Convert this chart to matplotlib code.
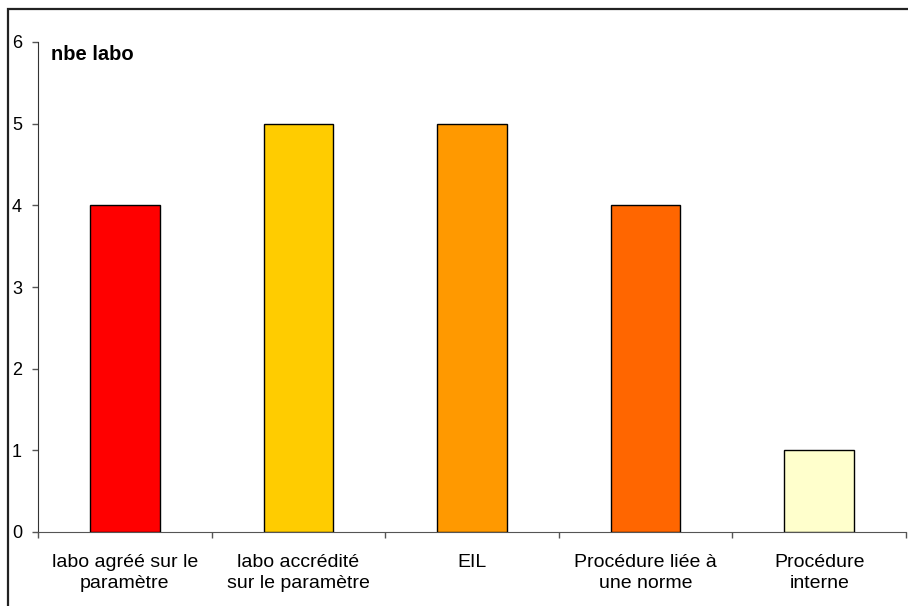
import matplotlib
matplotlib.use("Agg")
import matplotlib.pyplot as plt
from matplotlib.patches import Rectangle
import numpy as np

plt.rcParams['font.family'] = ['Liberation Sans', 'DejaVu Sans']

categories = ["labo agréé sur le\nparamètre", "labo accrédité\nsur le paramètre", "EIL",
              "Procédure liée à\nune norme", "Procédure\ninterne"]
values = [4, 5, 5, 4, 1]
colors = ["#FF0000", "#FFCC00", "#FF9900", "#FF6600", "#FFFFCC"]
yticks = [0, 1, 2, 3, 4, 5, 6]

fig = plt.figure(figsize=(9.08, 6.06), dpi=100)
W, H = 908, 606
ax = fig.add_axes([38 / W, (H - 532) / H, (906 - 38) / W, 490 / H])

# outer chart frame
fig.patches.append(Rectangle((8 / W, -0.1), 1.2, (H - 9) / H + 0.1, transform=fig.transFigure,
                             fill=False, edgecolor="#222222", linewidth=1.6))

x = np.arange(len(categories))
ax.bar(x, values, width=0.4, color=colors, edgecolor="black", linewidth=1.0, zorder=3)

ax.set_xlim(-0.5, len(categories) - 0.5)
ax.set_ylim(0, 6)
ax.set_yticks(yticks)
ax.set_yticklabels([str(v) for v in yticks], fontsize=13)
ax.set_xticks(x)
ax.set_xticklabels(categories, fontsize=14, linespacing=1.3)
ax.set_xticks(np.arange(-0.5, len(categories)), minor=True)
ax.tick_params(axis="x", which="major", length=0, pad=16)
ax.tick_params(axis="x", which="minor", length=4.5, width=1.0, color="#555555")
ax.tick_params(axis="y", length=4.5, width=1.0, pad=7, color="#555555")

for side in ("top", "right"):
    ax.spines[side].set_visible(False)
ax.spines["left"].set_color("#333333")
ax.spines["bottom"].set_color("#555555")

ax.text(51 / W, (H - 55) / H, "nbe labo", transform=fig.transFigure, fontsize=14.5,
        fontweight="bold", va="center", ha="left")

fig.savefig("out.png", dpi=100, facecolor="white")
